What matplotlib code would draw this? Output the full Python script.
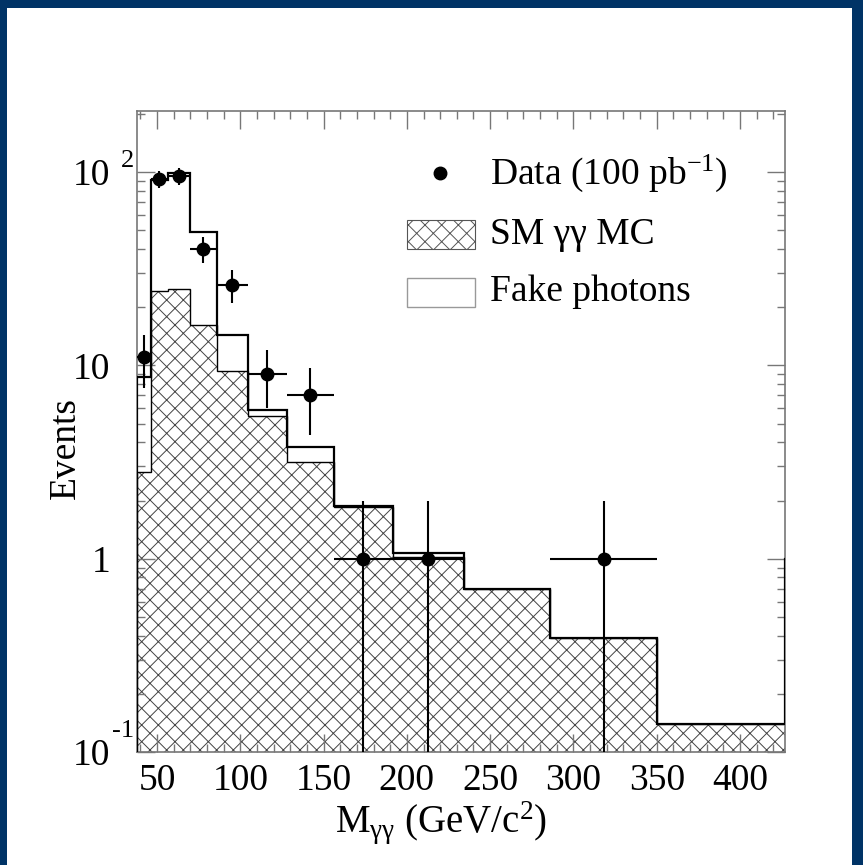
import numpy as np
import matplotlib.pyplot as plt
from matplotlib.patches import Rectangle
from matplotlib.lines import Line2D

# bin edges in GeV/c^2 (the last bin runs past the frame)
edges = [38, 46.4, 56.6, 69.8, 86.0, 104.6, 128.0, 156.2, 191.6, 234.2, 286.0, 350.2, 427.0, 520.0]
# SM gamma-gamma MC + fake photons (stacked total)
total = [8.7, 91, 99, 49, 14.4, 5.85, 3.77, 1.88, 1.07, 0.70, 0.39, 0.14, 1.0]
sm_mc = [2.8, 24.3, 24.8, 16.1, 9.3, 5.5, 3.16, 1.85, 1.02, 0.70, 0.39, 0.14, 1.0]
# observed events per bin
data = [11, 92, 95, 40, 26, 9, 7, 1, 1, 0, 1, 0, 0]

xticks = [50, 100, 150, 200, 250, 300, 350, 400]
yticks = [0.1, 1, 10, 100]
ylabels = ['10', '1', '10', '10']
yexps = {0.1: '-1', 100: '2'}

plt.rcParams['font.family'] = ['Liberation Serif', 'DejaVu Serif']
plt.rcParams['mathtext.fontset'] = 'custom'
plt.rcParams['mathtext.rm'] = 'Liberation Serif'
plt.rcParams['mathtext.it'] = 'Liberation Serif:italic'
plt.rcParams['hatch.linewidth'] = 0.7

W, H = 863, 865
fig = plt.figure(figsize=(W / 100, H / 100), dpi=100, facecolor='#003366')
fig.add_artist(Rectangle((7 / W, 0), (852 - 7) / W, 1 - 8 / H, transform=fig.transFigure,
                         facecolor='white', edgecolor='none', zorder=-10))

ax = fig.add_axes([137 / W, 1 - 752 / H, (785 - 137) / W, (752 - 111) / H])
ax.set_yscale('log')

# hatched SM MC
ax.stairs(sm_mc, edges, baseline=1e-3, fill=True, facecolor='white', edgecolor='#444444',
          linewidth=0, hatch='xx', zorder=1)
ax.stairs(sm_mc, edges, baseline=1e-3, color='black', linewidth=1.0, zorder=2)
# total outline
ax.stairs(total, edges, baseline=1e-3, color='black', linewidth=1.6, zorder=3)

# data points
e = np.array(edges)
centers = (e[:-1] + e[1:]) / 2
halfw = (e[1:] - e[:-1]) / 2
d = np.array(data, dtype=float)
m = d > 0
ax.errorbar(centers[m], d[m], xerr=halfw[m], yerr=np.sqrt(d[m]), fmt='o', color='black',
            ms=9, elinewidth=1.5, capsize=0, zorder=5)

ax.set_xlim(38, 427)
ax.set_ylim(0.1, 207)
ax.set_xticks(xticks)
ax.set_xticks(np.arange(40, 430, 10), minor=True)
ax.set_yticks(yticks)
ax.set_yticklabels(ylabels)
ax.tick_params(axis='both', which='both', direction='in', top=True, right=True,
               colors='#777777', labelcolor='black', labelsize=27)
ax.tick_params(axis='both', which='major', length=13, width=1)
ax.tick_params(axis='both', which='minor', length=6, width=1)
ax.tick_params(axis='x', which='major', pad=8)
ax.tick_params(axis='y', which='major', pad=19)
for s in ax.spines.values():
    s.set_color('#777777')
    s.set_linewidth(1.2)

# ROOT-style exponents set apart from the "10"
ax.annotate(yexps[100], (-0.005, 100), xycoords=ax.get_yaxis_transform(),
            ha='right', va='bottom', fontsize=19)
ax.annotate(yexps[0.1], (-0.005, 0.1), xycoords=ax.get_yaxis_transform(),
            xytext=(0, 7), textcoords='offset points', ha='right', va='bottom', fontsize=19)

ax.set_xlabel('M$_{\\mathrm{γγ}}$ (GeV/c$^{2}$)', fontsize=28)
ax.xaxis.set_label_coords(0.469, -0.073)
ax.set_ylabel('Events', fontsize=27)
ax.yaxis.set_label_coords(-0.083, 0.475)

# legend
def fx(px):
    return px / W

def fy(py):
    return 1 - py / H

fig.add_artist(Line2D([fx(440)], [fy(173)], marker='o', ms=9, color='black',
                      transform=fig.transFigure))
fig.text(fx(490), fy(173), 'Data (100 pb$^{-1}$)', fontsize=27, va='center')
fig.add_artist(Rectangle((fx(407), fy(249)), 68 / W, 29 / H, transform=fig.transFigure,
                         facecolor='white', edgecolor='#555555', hatch='xx', linewidth=0.8))
fig.text(fx(490), fy(235), 'SM γγ MC', fontsize=27, va='center')
fig.add_artist(Rectangle((fx(407), fy(307)), 68 / W, 29 / H, transform=fig.transFigure,
                         facecolor='white', edgecolor='#999999', linewidth=1.0))
fig.text(fx(490), fy(292), 'Fake photons', fontsize=27, va='center')

fig.savefig('out.png', dpi=100, facecolor=fig.get_facecolor())
